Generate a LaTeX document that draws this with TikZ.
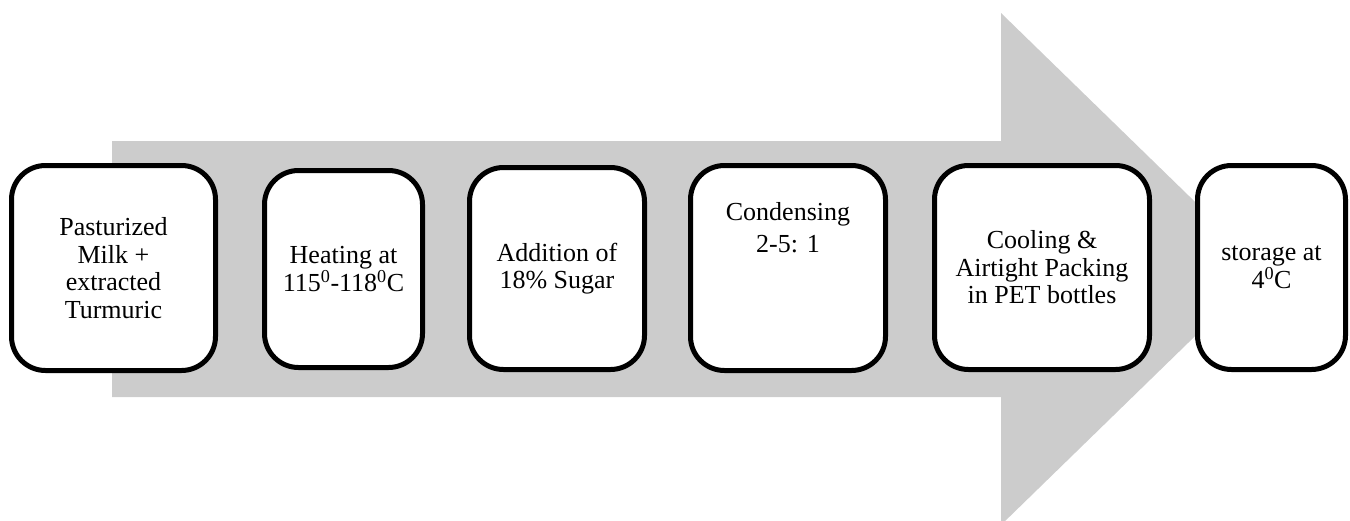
\documentclass[tikz,border=0pt]{standalone}
\usepackage{fontspec}
\setmainfont{Liberation Serif}
\definecolor{arrowgray}{RGB}{204,204,204}
\begin{document}
\begin{tikzpicture}[x=1pt,y=-1pt,
  box/.style={draw=black, line width=5pt, fill=white, rounded corners=34pt,
    inner sep=0pt, align=center,
    font=\fontsize{26}{27.5}\selectfont},
  txt/.style={inner sep=0pt, align=center, font=\fontsize{26}{27.5}\selectfont}]
\useasboundingbox (0,0) rectangle (1350,520);
\clip (0,0) rectangle (1350,520);
% big arrow
\fill[arrowgray] (112,141) -- (1001,141) -- (1001,13) -- (1264,269)
  -- (1001,525) -- (1001,397) -- (112,397) -- cycle;
% boxes
\node[box, minimum width=204pt, minimum height=205pt] (b1) at (113.5,268)
  {Pasturized\\Milk +\\extracted\\Turmuric};
\node[box, minimum width=158pt, minimum height=197pt] (b2) at (343.5,269)
  {Heating at\\115\textsuperscript{0}-118\textsuperscript{0}C};
\node[box, minimum width=175pt, minimum height=202pt] (b3) at (557,268.5)
  {Addition of\\18\% Sugar};
\node[box, minimum width=195pt, minimum height=205pt] (b4) at (788,268) {};
\node[txt] (t4) at (788,228) {Condensing\\[4.5pt]2-5: 1};
\node[box, minimum width=215pt, minimum height=204pt] (b5) at (1042,267.5)
  {Cooling \&\\Airtight Packing\\in PET bottles};
\node[box, minimum width=148pt, minimum height=204pt] (b6) at (1271.5,267.5)
  {storage at\\4\textsuperscript{0}C};
\end{tikzpicture}
\end{document}
